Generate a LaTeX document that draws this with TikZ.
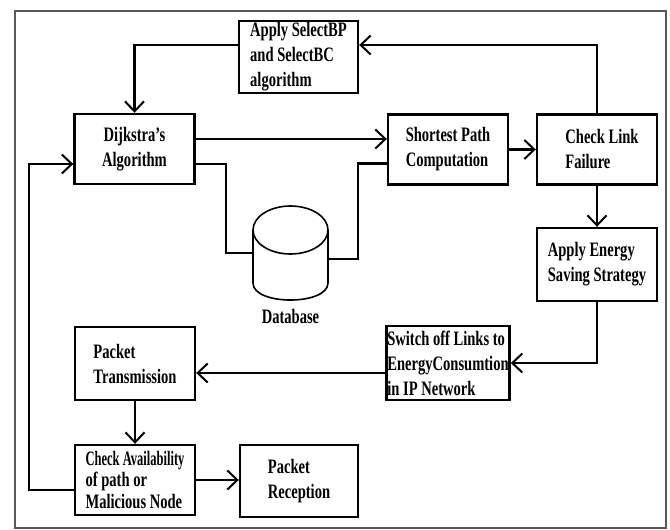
\documentclass[tikz,border=0pt]{standalone}
\usepackage{fontspec}
\setmainfont{Liberation Serif}[FakeStretch=0.71]
\usepackage{graphicx}
\usetikzlibrary{arrows.meta}

\begin{document}
\begin{tikzpicture}[x=1pt,y=-1pt,
	>={Straight Barb[length=10pt,width=19pt,line width=2pt]},
	font=\bfseries\fontsize{20.5}{25}\selectfont]
	\useasboundingbox (0,0) rectangle (670,530);
	\draw[black!65,line width=1.5pt] (15,11) rectangle (666,528);
	
	\begin{scope}[every node/.style={draw,line width=2.4pt,minimum width=120pt,minimum height=70pt,inner sep=1pt,align=left}]
		\node (sel) at (298.5,57) [minimum width=119pt,minimum height=72pt] {Apply SelectBP\\and SelectBC\\algorithm};
		\node (dij) at (134.5,149) [align=center] {Dijkstra's\\Algorithm};
		\node (spc) at (448,149.5) {Shortest Path\\Computation};
		\node (clf) at (597,149.5) {\hspace*{10pt}Check Link\\\hspace*{10pt}Failure};
		\node (aes) at (597,264.5) [minimum height=73pt] {Apply Energy\\Saving Strategy};
		\node (swo) at (448,363) [minimum height=74pt] {Switch off Links to\\EnergyConsumtion\\in IP Network};
		\node (ptx) at (135,363.5) [minimum height=73pt] {Packet\\Transmission};
		\node (cav) at (135,480) [font=\bfseries\fontsize{20.5}{21.5}\selectfont] {\scalebox{0.86}[1]{Check Availability}\\of path or\\Malicious Node};
		\node (prc) at (299,481) [minimum width=118pt,minimum height=72pt] {Packet\\Reception};
	\end{scope}
	
	% database
	\node (db) at (290.5,253) [minimum width=75pt,minimum height=94pt,inner sep=0pt] {};
	\draw[line width=1.6pt] (253,230) -- (253,283) .. controls (253,305.7) and (328,305.7) .. (328,283) -- (328,230);
	\draw[line width=1.6pt,fill=white] (290.5,230) ellipse [x radius=37.5, y radius=24];
	\node (dbl) at (290.5,316) {Database};
	
	\begin{scope}[line width=2.2pt]
		\draw [->] (clf.north) |- ([yshift=12pt]sel.east);
		\draw [->] ([yshift=12pt]sel.west) -| (dij.north);
		\draw [->] ([yshift=10pt]dij.east) -- ([yshift=10pt]dij.east -| spc.west);
		\draw ([yshift=-15pt]dij.east) -- ++(30,0) |- (db.west);
		\draw ([yshift=-6pt]db.east) -- ++(30,0) |- ([yshift=-14pt]spc.west);
		\draw [->] (spc.east) -- (clf.west);
		\draw [->] (clf.south) -- (aes.north);
		\draw [->] (aes.south) |- (swo.east);
		\draw [->] ([yshift=-10pt]swo.west) -- ([yshift=-10pt]swo.west -| ptx.east);
		\draw [->] (ptx.south) -- (cav.north);
		\draw [->] (cav.east) -- (cav.east -| prc.west);
		\draw [->] ([yshift=-10pt]cav.west) -- ++(-45,0) |- ([yshift=-15pt]dij.west);
	\end{scope}
\end{tikzpicture}
\end{document}
